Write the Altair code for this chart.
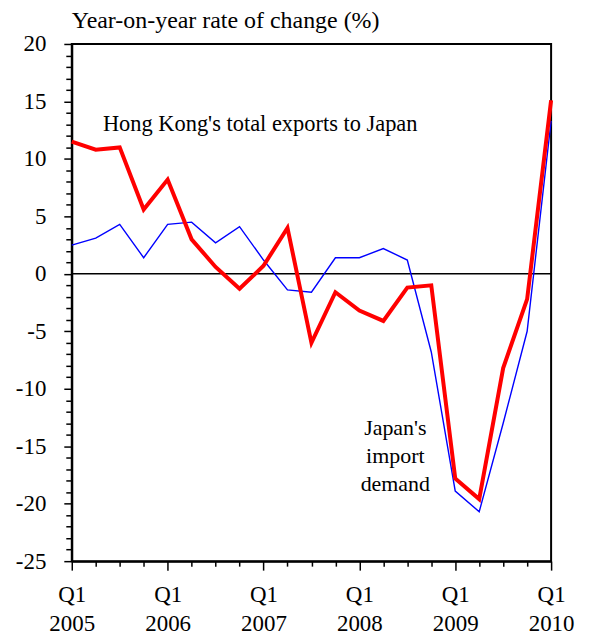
import altair as alt
import pandas as pd

quarters = list(range(21))  # 2005 Q1 .. 2010 Q1
hk_exports = [11.5, 10.8, 11.0, 5.6, 8.2, 3.0, 0.6, -1.3, 0.7, 4.0, -6.0,
              -1.6, -3.2, -4.1, -1.2, -1.0, -17.8, -19.6, -8.2, -2.2, 15.1]
japan_imports = [2.5, 3.1, 4.3, 1.4, 4.3, 4.5, 2.7, 4.1, 1.2, -1.4, -1.6,
                 1.4, 1.4, 2.2, 1.2, -6.8, -18.9, -20.7, -13.0, -5.0, 13.3]
y_ticks = list(range(-25, 21))

FONT = "Liberation Serif"

df = pd.DataFrame({"q": quarters, "hk": hk_exports, "jp": japan_imports})

xscale = alt.Scale(domain=[0, 20], nice=False, zero=False)
yscale = alt.Scale(domain=[-25, 20], nice=False, zero=False)

xaxis = alt.Axis(
    values=quarters,
    tickCount=200,
    title=None,
    grid=False,
    domainColor="black",
    domainWidth=2,
    tickColor="black",
    tickWidth=1.5,
    tickSize={"condition": {"test": "datum.value % 4 === 0", "value": 9}, "value": 5},
    labelExpr="datum.value % 4 === 0 ? ['Q1', '' + (2005 + datum.value / 4)] : ''",
    labelFont=FONT,
    labelFontSize=23,
    labelColor="black",
    labelLineHeight=30,
    labelPadding=13,
    labelBaseline="top",
    labelFlush=False,
    labelOverlap=False,
)

yaxis = alt.Axis(
    values=y_ticks,
    tickCount=200,
    title=None,
    grid=False,
    domainColor="black",
    domainWidth=2,
    tickColor="black",
    tickWidth=1.5,
    tickSize={"condition": {"test": "datum.value % 5 === 0", "value": 8}, "value": 6},
    labelExpr="datum.value % 5 === 0 ? '' + datum.value : ''",
    labelFont=FONT,
    labelFontSize=23,
    labelColor="black",
    labelPadding=18,
    labelOverlap=False,
    labelFlush=False,
)

base = alt.Chart(df)

blue = base.mark_line(color="#0000FF", strokeWidth=1.4).encode(
    x=alt.X("q:Q", scale=xscale, axis=xaxis),
    y=alt.Y("jp:Q", scale=yscale, axis=yaxis),
)
red = base.mark_line(color="#FF0000", strokeWidth=4, strokeJoin="miter").encode(
    x=alt.X("q:Q", scale=xscale),
    y=alt.Y("hk:Q", scale=yscale),
)

zero = alt.Chart(pd.DataFrame({"v": [0]})).mark_rule(color="black", strokeWidth=1.5).encode(
    y=alt.Y("v:Q", scale=yscale)
)

labels_df = pd.DataFrame({
    "q": [1.3, 13.5],
    "v": [12.4, -14.0],
    "t": ["Hong Kong's total exports to Japan", "Japan's\nimport\ndemand"],
})
hk_label = alt.Chart(labels_df.iloc[[0]]).mark_text(
    font=FONT, fontSize=22.5, align="left", baseline="alphabetic", color="black"
).encode(x=alt.X("q:Q", scale=xscale), y=alt.Y("v:Q", scale=yscale), text="t:N")
jp_label = alt.Chart(labels_df.iloc[[1]]).mark_text(
    font=FONT, fontSize=22, align="center", baseline="alphabetic", color="black",
    lineBreak="\n", lineHeight=28
).encode(x=alt.X("q:Q", scale=xscale), y=alt.Y("v:Q", scale=yscale), text="t:N")

chart = alt.layer(zero, blue, red, hk_label, jp_label).properties(
    width=481,
    height=519,
    autosize=alt.AutoSizeParams(type="none"),
    padding={"left": 64, "top": 35, "right": 30, "bottom": 71},
    title=alt.Title(
        "Year-on-year rate of change (%)",
        anchor="start",
        frame="group",
        font=FONT,
        fontSize=24,
        fontWeight="normal",
        color="black",
        offset=0,
    ),
).configure(font=FONT).configure_view(stroke="black", strokeWidth=2)

chart.save("out.html", embed_options={"renderer": "svg", "actions": False})
